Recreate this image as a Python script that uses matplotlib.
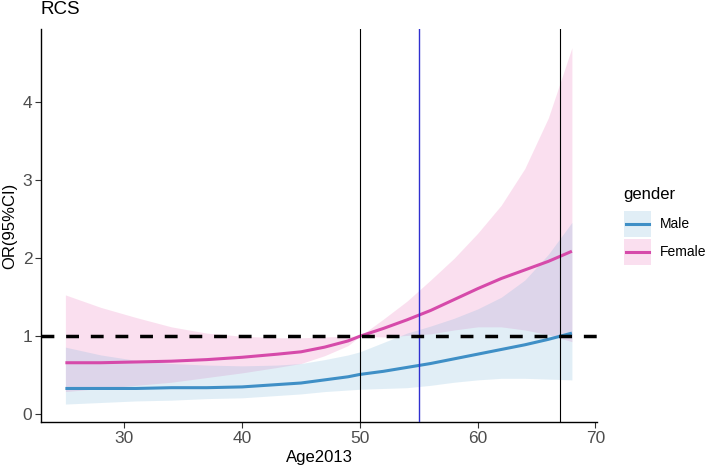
import matplotlib
matplotlib.use("Agg")
import matplotlib.pyplot as plt
from matplotlib.patches import Rectangle
from matplotlib.lines import Line2D

plt.rcParams['font.family'] = ['Liberation Sans', 'DejaVu Sans']

# ---- data ----
age = [25, 28, 31, 34, 37, 40, 43, 45, 47, 49, 50, 52, 54, 56, 58, 60, 62, 64, 66, 68]

male_or    = [0.33, 0.33, 0.33, 0.34, 0.34, 0.35, 0.38, 0.40, 0.44, 0.48, 0.51,
              0.55, 0.60, 0.65, 0.71, 0.77, 0.83, 0.89, 0.96, 1.04]
male_lower = [0.13, 0.15, 0.17, 0.18, 0.20, 0.21, 0.24, 0.26, 0.29, 0.31, 0.32,
              0.33, 0.34, 0.37, 0.41, 0.44, 0.46, 0.46, 0.45, 0.44]
male_upper = [0.86, 0.76, 0.69, 0.65, 0.63, 0.62, 0.63, 0.65, 0.70, 0.76, 0.80,
              0.92, 1.04, 1.13, 1.23, 1.35, 1.50, 1.72, 2.05, 2.46]

female_or    = [0.66, 0.66, 0.67, 0.68, 0.70, 0.73, 0.77, 0.80, 0.86, 0.94, 1.00,
                1.10, 1.21, 1.33, 1.47, 1.61, 1.74, 1.85, 1.96, 2.09]
female_lower = [0.29, 0.33, 0.37, 0.41, 0.47, 0.53, 0.60, 0.65, 0.75, 0.88, 1.00,
                0.99, 1.01, 1.03, 1.08, 1.12, 1.12, 1.08, 1.02, 0.93]
female_upper = [1.53, 1.37, 1.24, 1.12, 1.04, 1.00, 0.98, 0.98, 0.99, 1.00, 1.00,
                1.22, 1.45, 1.72, 2.00, 2.32, 2.68, 3.15, 3.80, 4.70]

ref_line = 1.0
knot_lines = [50, 67]
ref_age = 55

x_ticks = [30, 40, 50, 60, 70]
y_ticks = [0, 1, 2, 3, 4]

groups = ["Male", "Female"]
line_colors = {"Male": "#3F8FC6", "Female": "#D64AAA"}
fill_colors = {"Male": "#6BAED6", "Female": "#EE82C0"}
fill_alpha = {"Male": 0.2, "Female": 0.25}

W, H = 708, 472
fig = plt.figure(figsize=(W / 100, H / 100), dpi=100)
ax = fig.add_axes([41 / W, 1 - 422 / H, (597 - 41) / W, (422 - 29) / H])

ax.fill_between(age, female_lower, female_upper, color=fill_colors["Female"],
                alpha=fill_alpha["Female"], linewidth=0)
ax.fill_between(age, male_lower, male_upper, color=fill_colors["Male"],
                alpha=fill_alpha["Male"], linewidth=0)
ax.plot(age, male_or, color=line_colors["Male"], lw=2.2, solid_capstyle='butt')
ax.plot(age, female_or, color=line_colors["Female"], lw=2.2, solid_capstyle='butt')

hl = ax.axhline(ref_line, color="black", lw=2.5, zorder=4)
hl.set_dashes([3.7, 3.4])
for k in knot_lines:
    ax.axvline(k, color="black", lw=0.8, zorder=3)
ax.axvline(ref_age, color="#2F2FD0", lw=1.0, zorder=3)

ax.set_xlim(22.93, 70.13)
ax.set_ylim(-0.10, 4.94)
ax.set_xticks(x_ticks)
ax.set_yticks(y_ticks)
for s in ["top", "right"]:
    ax.spines[s].set_visible(False)
for s in ["left", "bottom"]:
    ax.spines[s].set_linewidth(1.0)
    ax.spines[s].set_color("black")
ax.tick_params(axis='both', length=4.3, width=0.8, color="#333333",
               labelcolor="#4D4D4D", labelsize=12.5, pad=2)

ax.set_xlabel("Age2013", fontsize=12, color="black", labelpad=3)
ax.set_ylabel("OR(95%CI)", fontsize=12, color="black", labelpad=4)
fig.text(41 / W, 1 - 10 / H, "RCS", fontsize=13.5, ha="left", va="center")

# ---- legend ----
fig.text(623 / W, 1 - 195 / H, "gender", fontsize=12, ha="left", va="center")
key_top = [211, 239]
for g, kt in zip(groups, key_top):
    x0, x1 = 624, 651
    y0, y1 = kt, kt + 26
    fig.add_artist(Rectangle((x0 / W, 1 - y1 / H), (x1 - x0) / W, (y1 - y0) / H,
                             transform=fig.transFigure, facecolor=fill_colors[g],
                             alpha=fill_alpha[g], edgecolor="none"))
    ym = 1 - (y0 + y1) / 2 / H
    fig.add_artist(Line2D([(x0 + 2) / W, (x1 - 2) / W], [ym, ym],
                          transform=fig.transFigure, color=line_colors[g], lw=2.2))
    fig.text(660 / W, ym, g, fontsize=10, ha="left", va="center")

fig.savefig("out.png", dpi=100, facecolor="white")
